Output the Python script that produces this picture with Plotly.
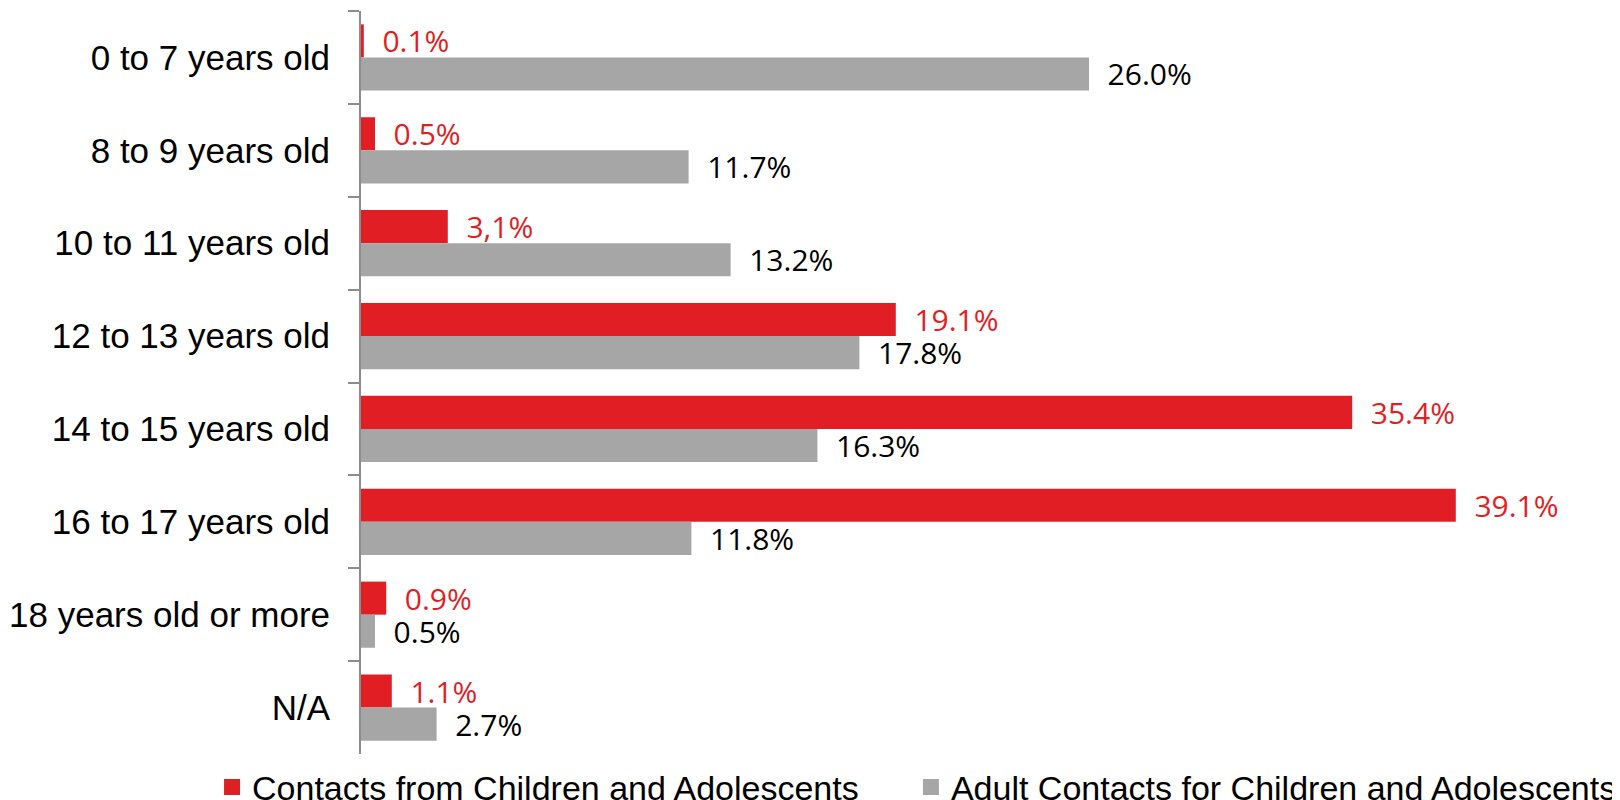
import plotly.graph_objects as go

# categories, top to bottom
age_groups = ["0 to 7 years old", "8 to 9 years old", "10 to 11 years old",
              "12 to 13 years old", "14 to 15 years old", "16 to 17 years old",
              "18 years old or more", "N/A"]

# contacts from children and adolescents (%)
children = [0.1, 0.5, 3.1, 19.1, 35.4, 39.1, 0.9, 1.1]
children_labels = ["0.1%", "0.5%", "3,1%", "19.1%", "35.4%", "39.1%", "0.9%", "1.1%"]

# adult contacts for children and adolescents (%)
adults = [26.0, 11.7, 13.2, 17.8, 16.3, 11.8, 0.5, 2.7]
adults_labels = ["26.0%", "11.7%", "13.2%", "17.8%", "16.3%", "11.8%", "0.5%", "2.7%"]

series_names = ["Contacts from Children and Adolescents",
                "Adult Contacts for Children and Adolescents"]

RED = "#e21e25"
GRAY = "#a6a6a6"

fig = go.Figure()

for vals, labels, color, txtcolor in [(children, children_labels, RED, RED),
                                      (adults, adults_labels, GRAY, "#000000")]:
    fig.add_trace(go.Bar(
        y=age_groups, x=vals, orientation="h",
        marker=dict(color=color, line=dict(width=0)),
        text=labels, texttemplate="\u00a0\u00a0%{text}",
        textposition="outside", cliponaxis=False, constraintext="none",
        textfont=dict(family="Open Sans", size=30, color=txtcolor),
        showlegend=False, hoverinfo="skip",
    ))

# legend proxies (square swatches), one legend box each so nothing gets clipped
for name, color, leg in zip(series_names, [RED, GRAY], ["legend", "legend2"]):
    fig.add_trace(go.Scatter(
        x=[None], y=[None], mode="markers", name=name, legend=leg,
        marker=dict(symbol="square", size=19, color=color),
    ))

legend_style = dict(
    orientation="h", xanchor="left", y=-0.045, yanchor="middle",
    font=dict(family="Liberation Sans", size=34, color="#000000"),
    bgcolor="rgba(0,0,0,0)",
)

# page body adds an 8px margin, so the figure is 16px smaller and shifted
fig.update_layout(
    width=1612, height=792,
    barmode="group", bargap=0.288, bargroupgap=0,
    plot_bgcolor="white", paper_bgcolor="white",
    margin=dict(l=353, r=139, t=3, b=46, autoexpand=False),
    font=dict(family="Liberation Sans", color="#000000"),
    xaxis=dict(range=[0, 40], visible=False, fixedrange=True),
    yaxis=dict(
        autorange="reversed", type="category", automargin=False,
        showline=True, linecolor="#8c8c8c", linewidth=2,
        ticks="outside", tickson="boundaries", ticklen=11, tickwidth=2,
        tickcolor="#8c8c8c", showgrid=False,
        tickfont=dict(family="Liberation Sans", size=35, color="#000000"),
        ticklabelstandoff=22,
    ),
    legend=dict(x=-0.133, **legend_style),
    legend2=dict(x=0.491, **legend_style),
)

fig.write_html("out.html")
